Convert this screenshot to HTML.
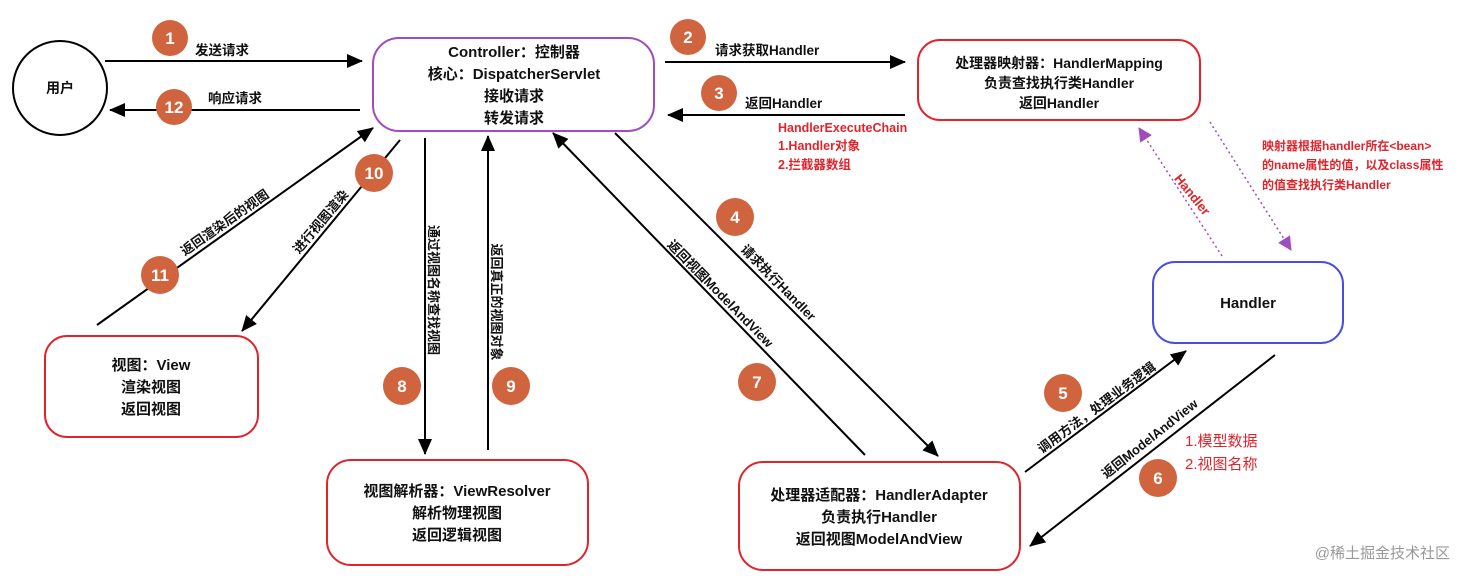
<!DOCTYPE html>
<html><head><meta charset="utf-8"><style>
body{margin:0;background:#fff}
svg{display:block}
text{font-family:"Liberation Sans","Noto Sans CJK SC",sans-serif}
.b{font-weight:bold;font-size:15px;fill:#111}
.l{font-weight:bold;font-size:13.5px;fill:#111}
.r{font-weight:bold;font-size:13px;fill:#111}
.red{fill:#e0242c;font-size:12.5px;font-weight:bold}
.n{fill:#fff;font-weight:bold;font-size:17px}
</style></head><body>
<svg width="1467" height="582" viewBox="0 0 1467 582">
<defs>
<marker id="a2" markerWidth="16" markerHeight="14" refX="15" refY="7" orient="auto" markerUnits="userSpaceOnUse"><path d="M0,0 L16,7 L0,14 z" fill="#000"/></marker>
<marker id="p" markerWidth="14" markerHeight="14" refX="13" refY="7" orient="auto" markerUnits="userSpaceOnUse"><path d="M0,0 L14,7 L0,14 z" fill="#a04bc0"/></marker>
</defs>
<circle cx="60" cy="88" r="47" fill="#fff" stroke="#000" stroke-width="2"/>
<text x="60" y="93" text-anchor="middle" class="b" style="font-size:14px">用户</text>
<rect x="373" y="38" width="281" height="93" rx="26" fill="#fff" stroke="#a04bc0" stroke-width="2"/>
<g class="b" text-anchor="middle"><text x="514" y="57">Controller：控制器</text><text x="514" y="79">核心：DispatcherServlet</text><text x="514" y="101">接收请求</text><text x="514" y="123">转发请求</text></g>
<rect x="918" y="40" width="282" height="80" rx="22" fill="#fff" stroke="#e0242c" stroke-width="2"/>
<g class="b" text-anchor="middle" style="font-size:14px"><text x="1059" y="68">处理器映射器：HandlerMapping</text><text x="1059" y="88">负责查找执行类Handler</text><text x="1059" y="108">返回Handler</text></g>
<rect x="1153" y="262" width="190" height="81" rx="22" fill="#fff" stroke="#4a4ee0" stroke-width="2"/>
<text x="1248" y="308" text-anchor="middle" class="b">Handler</text>
<rect x="45" y="336" width="213" height="101" rx="22" fill="#fff" stroke="#e0242c" stroke-width="2"/>
<g class="b" text-anchor="middle"><text x="151" y="370">视图：View</text><text x="151" y="392">渲染视图</text><text x="151" y="414">返回视图</text></g>
<rect x="327" y="460" width="261" height="105" rx="24" fill="#fff" stroke="#e0242c" stroke-width="2"/>
<g class="b" text-anchor="middle"><text x="457" y="496">视图解析器：ViewResolver</text><text x="457" y="518">解析物理视图</text><text x="457" y="540">返回逻辑视图</text></g>
<rect x="739" y="462" width="281" height="108" rx="24" fill="#fff" stroke="#e0242c" stroke-width="2"/>
<g class="b" text-anchor="middle"><text x="879" y="500">处理器适配器：HandlerAdapter</text><text x="879" y="522">负责执行Handler</text><text x="879" y="544">返回视图ModelAndView</text></g>
<g stroke="#000" stroke-width="2" fill="none">
<line x1="105" y1="61" x2="362" y2="61" marker-end="url(#a2)"/>
<line x1="360" y1="110" x2="110" y2="110" marker-end="url(#a2)"/>
<line x1="665" y1="62" x2="905" y2="62" marker-end="url(#a2)"/>
<line x1="905" y1="115" x2="668" y2="115" marker-end="url(#a2)"/>
<line x1="615" y1="133" x2="938" y2="456" marker-end="url(#a2)"/>
<line x1="865" y1="455" x2="553" y2="133" marker-end="url(#a2)"/>
<line x1="1025" y1="472" x2="1186" y2="351" marker-end="url(#a2)"/>
<line x1="1275" y1="355" x2="1030" y2="546" marker-end="url(#a2)"/>
<line x1="425" y1="138" x2="425" y2="454" marker-end="url(#a2)"/>
<line x1="488" y1="450" x2="488" y2="136" marker-end="url(#a2)"/>
<line x1="400" y1="140" x2="242" y2="331" marker-end="url(#a2)"/>
<line x1="97" y1="325" x2="373" y2="128" marker-end="url(#a2)"/>
</g>
<g stroke="#a04bc0" stroke-width="1.5" stroke-dasharray="2,3" fill="none">
<line x1="1222" y1="256" x2="1139" y2="128" marker-end="url(#p)"/>
<line x1="1210" y1="122" x2="1291" y2="250" marker-end="url(#p)"/>
</g>
<text x="195" y="55" class="l">发送请求</text>
<text x="208" y="103" class="l">响应请求</text>
<text x="715" y="55" class="l">请求获取Handler</text>
<text x="745" y="108" class="l">返回Handler</text>
<g class="red"><text x="778" y="132">HandlerExecuteChain</text><text x="778" y="150">1.Handler对象</text><text x="778" y="169">2.拦截器数组</text></g>
<g class="red" style="font-size:12px"><text x="1262" y="150">映射器根据handler所在&lt;bean&gt;</text><text x="1262" y="169">的name属性的值，以及class属性</text><text x="1262" y="189">的值查找执行类Handler</text></g>
<text transform="translate(1192,195) rotate(51)" text-anchor="middle" dy="4" class="red" style="font-size:13px">Handler</text>
<g class="red" style="font-size:15px;font-weight:normal"><text x="1185" y="446">1.模型数据</text><text x="1185" y="469">2.视图名称</text></g>
<g class="r" text-anchor="middle">
<text transform="translate(778,283) rotate(45.5)" dy="4">请求执行Handler</text>
<text transform="translate(720,294) rotate(45.5)" dy="4">返回视图ModelAndView</text>
<text transform="translate(1097,408) rotate(-36.6)" dy="4">调用方法，处理业务逻辑</text>
<text transform="translate(1150,439) rotate(-38.5)" dy="4">返回ModelAndView</text>
<text transform="translate(225,223) rotate(-35)" dy="4">返回渲染后的视图</text>
<text transform="translate(321,222) rotate(-50)" dy="4">进行视图渲染</text>
<text transform="translate(433,290) rotate(90)" dy="4">通过视图名称查找视图</text>
<text transform="translate(496,302) rotate(90)" dy="4">返回真正的视图对象</text>
</g>
<g fill="#d0643f">
<circle cx="170" cy="38" r="18"/><circle cx="174" cy="107" r="18"/><circle cx="688" cy="37" r="18"/><circle cx="719" cy="93" r="18"/>
<circle cx="735" cy="217" r="19"/><circle cx="757" cy="382" r="19"/><circle cx="1063" cy="393" r="19"/><circle cx="1158" cy="478" r="19"/>
<circle cx="402" cy="386" r="19"/><circle cx="511" cy="386" r="19"/><circle cx="374" cy="173" r="19"/><circle cx="160" cy="275" r="19"/>
</g>
<g class="n" text-anchor="middle">
<text x="170" y="44">1</text><text x="174" y="113">12</text><text x="688" y="43">2</text><text x="719" y="99">3</text>
<text x="735" y="223">4</text><text x="757" y="388">7</text><text x="1063" y="399">5</text><text x="1158" y="484">6</text>
<text x="402" y="392">8</text><text x="511" y="392">9</text><text x="374" y="179">10</text><text x="160" y="281">11</text>
</g>
<text x="1450" y="558" text-anchor="end" style="font-size:15px;fill:#999">@稀土掘金技术社区</text>
</svg>
</body></html>
